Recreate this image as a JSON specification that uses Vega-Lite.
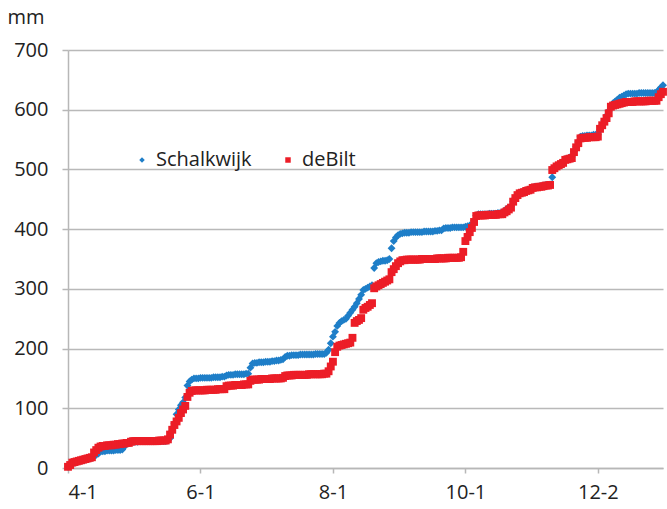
{
  "$schema": "https://vega.github.io/schema/vega-lite/v6.json",
  "width": 595,
  "height": 418,
  "autosize": "none",
  "padding": {"left": 68, "top": 50, "right": 4, "bottom": 41},
  "background": "white",
  "config": {
    "view": {"stroke": null},
    "font": "Open Sans",
    "axis": {"labelFont": "Open Sans", "labelFontSize": 20, "labelColor": "#222222", "domainColor": "#b7b7b7", "domainWidth": 1.5, "tickColor": "#b7b7b7", "tickWidth": 1.5, "gridColor": "#b9b9b9", "gridWidth": 1.5}
  },
  "data": {"values": [
{"d":0,"Schalkwijk":2,"deBilt":2},{"d":1,"Schalkwijk":6,"deBilt":5},{"d":2,"Schalkwijk":8,"deBilt":9},{"d":3,"Schalkwijk":9,"deBilt":10},{"d":4,"Schalkwijk":10,"deBilt":11},{"d":5,"Schalkwijk":11,"deBilt":12},{"d":6,"Schalkwijk":12,"deBilt":13},{"d":7,"Schalkwijk":13,"deBilt":14},{"d":8,"Schalkwijk":14,"deBilt":15},{"d":9,"Schalkwijk":15,"deBilt":16},
{"d":10,"Schalkwijk":16,"deBilt":17},{"d":11,"Schalkwijk":17,"deBilt":18},{"d":12,"Schalkwijk":19,"deBilt":26},{"d":13,"Schalkwijk":22,"deBilt":30},{"d":14,"Schalkwijk":24,"deBilt":34},{"d":15,"Schalkwijk":28,"deBilt":36},{"d":16,"Schalkwijk":28,"deBilt":37},{"d":17,"Schalkwijk":28,"deBilt":37},{"d":18,"Schalkwijk":29,"deBilt":38},{"d":19,"Schalkwijk":29,"deBilt":38},
{"d":20,"Schalkwijk":29,"deBilt":38},{"d":21,"Schalkwijk":29,"deBilt":39},{"d":22,"Schalkwijk":30,"deBilt":39},{"d":23,"Schalkwijk":30,"deBilt":40},{"d":24,"Schalkwijk":30,"deBilt":40},{"d":25,"Schalkwijk":31,"deBilt":41},{"d":26,"Schalkwijk":36,"deBilt":41},{"d":27,"Schalkwijk":42,"deBilt":42},{"d":28,"Schalkwijk":44,"deBilt":42},{"d":29,"Schalkwijk":44,"deBilt":44},
{"d":30,"Schalkwijk":44,"deBilt":45},{"d":31,"Schalkwijk":44,"deBilt":45},{"d":32,"Schalkwijk":44,"deBilt":45},{"d":33,"Schalkwijk":45,"deBilt":45},{"d":34,"Schalkwijk":45,"deBilt":45},{"d":35,"Schalkwijk":45,"deBilt":45},{"d":36,"Schalkwijk":45,"deBilt":45},{"d":37,"Schalkwijk":45,"deBilt":45},{"d":38,"Schalkwijk":45,"deBilt":45},{"d":39,"Schalkwijk":45,"deBilt":45},
{"d":40,"Schalkwijk":45,"deBilt":45},{"d":41,"Schalkwijk":45,"deBilt":45},{"d":42,"Schalkwijk":45,"deBilt":46},{"d":43,"Schalkwijk":45,"deBilt":46},{"d":44,"Schalkwijk":45,"deBilt":46},{"d":45,"Schalkwijk":45,"deBilt":46},{"d":46,"Schalkwijk":46,"deBilt":48},{"d":47,"Schalkwijk":50,"deBilt":56},{"d":48,"Schalkwijk":62,"deBilt":64},{"d":49,"Schalkwijk":75,"deBilt":72},
{"d":50,"Schalkwijk":90,"deBilt":78},{"d":51,"Schalkwijk":98,"deBilt":84},{"d":52,"Schalkwijk":105,"deBilt":92},{"d":53,"Schalkwijk":110,"deBilt":98},{"d":54,"Schalkwijk":118,"deBilt":104},{"d":55,"Schalkwijk":138,"deBilt":119},{"d":56,"Schalkwijk":145,"deBilt":126},{"d":57,"Schalkwijk":148,"deBilt":129},{"d":58,"Schalkwijk":150,"deBilt":130},{"d":59,"Schalkwijk":150,"deBilt":130},
{"d":60,"Schalkwijk":150,"deBilt":130},{"d":61,"Schalkwijk":151,"deBilt":130},{"d":62,"Schalkwijk":151,"deBilt":130},{"d":63,"Schalkwijk":151,"deBilt":130},{"d":64,"Schalkwijk":151,"deBilt":131},{"d":65,"Schalkwijk":151,"deBilt":131},{"d":66,"Schalkwijk":151,"deBilt":131},{"d":67,"Schalkwijk":152,"deBilt":131},{"d":68,"Schalkwijk":152,"deBilt":131},{"d":69,"Schalkwijk":152,"deBilt":132},
{"d":70,"Schalkwijk":152,"deBilt":132},{"d":71,"Schalkwijk":153,"deBilt":132},{"d":72,"Schalkwijk":153,"deBilt":132},{"d":73,"Schalkwijk":155,"deBilt":137},{"d":74,"Schalkwijk":156,"deBilt":138},{"d":75,"Schalkwijk":156,"deBilt":138},{"d":76,"Schalkwijk":156,"deBilt":138},{"d":77,"Schalkwijk":157,"deBilt":139},{"d":78,"Schalkwijk":157,"deBilt":139},{"d":79,"Schalkwijk":157,"deBilt":139},
{"d":80,"Schalkwijk":157,"deBilt":139},{"d":81,"Schalkwijk":157,"deBilt":140},{"d":82,"Schalkwijk":158,"deBilt":140},{"d":83,"Schalkwijk":158,"deBilt":140},{"d":84,"Schalkwijk":168,"deBilt":146},{"d":85,"Schalkwijk":175,"deBilt":148},{"d":86,"Schalkwijk":176,"deBilt":148},{"d":87,"Schalkwijk":176,"deBilt":148},{"d":88,"Schalkwijk":177,"deBilt":148},{"d":89,"Schalkwijk":177,"deBilt":149},
{"d":90,"Schalkwijk":177,"deBilt":149},{"d":91,"Schalkwijk":178,"deBilt":149},{"d":92,"Schalkwijk":178,"deBilt":149},{"d":93,"Schalkwijk":178,"deBilt":149},{"d":94,"Schalkwijk":179,"deBilt":150},{"d":95,"Schalkwijk":179,"deBilt":150},{"d":96,"Schalkwijk":180,"deBilt":150},{"d":97,"Schalkwijk":180,"deBilt":150},{"d":98,"Schalkwijk":181,"deBilt":150},{"d":99,"Schalkwijk":182,"deBilt":151},
{"d":100,"Schalkwijk":186,"deBilt":154},{"d":101,"Schalkwijk":188,"deBilt":155},{"d":102,"Schalkwijk":188,"deBilt":155},{"d":103,"Schalkwijk":189,"deBilt":155},{"d":104,"Schalkwijk":189,"deBilt":156},{"d":105,"Schalkwijk":189,"deBilt":156},{"d":106,"Schalkwijk":189,"deBilt":156},{"d":107,"Schalkwijk":190,"deBilt":156},{"d":108,"Schalkwijk":190,"deBilt":156},{"d":109,"Schalkwijk":190,"deBilt":156},
{"d":110,"Schalkwijk":190,"deBilt":156},{"d":111,"Schalkwijk":190,"deBilt":157},{"d":112,"Schalkwijk":190,"deBilt":157},{"d":113,"Schalkwijk":190,"deBilt":157},{"d":114,"Schalkwijk":191,"deBilt":157},{"d":115,"Schalkwijk":191,"deBilt":157},{"d":116,"Schalkwijk":191,"deBilt":157},{"d":117,"Schalkwijk":191,"deBilt":157},{"d":118,"Schalkwijk":191,"deBilt":158},{"d":119,"Schalkwijk":193,"deBilt":158},
{"d":120,"Schalkwijk":198,"deBilt":162},{"d":121,"Schalkwijk":209,"deBilt":170},{"d":122,"Schalkwijk":220,"deBilt":178},{"d":123,"Schalkwijk":228,"deBilt":194},{"d":124,"Schalkwijk":238,"deBilt":203},{"d":125,"Schalkwijk":243,"deBilt":205},{"d":126,"Schalkwijk":246,"deBilt":206},{"d":127,"Schalkwijk":248,"deBilt":207},{"d":128,"Schalkwijk":250,"deBilt":208},{"d":129,"Schalkwijk":255,"deBilt":209},
{"d":130,"Schalkwijk":260,"deBilt":210},{"d":131,"Schalkwijk":265,"deBilt":218},{"d":132,"Schalkwijk":270,"deBilt":243},{"d":133,"Schalkwijk":276,"deBilt":246},{"d":134,"Schalkwijk":283,"deBilt":248},{"d":135,"Schalkwijk":290,"deBilt":251},{"d":136,"Schalkwijk":298,"deBilt":265},{"d":137,"Schalkwijk":300,"deBilt":268},{"d":138,"Schalkwijk":302,"deBilt":270},{"d":139,"Schalkwijk":304,"deBilt":273},
{"d":140,"Schalkwijk":306,"deBilt":276},{"d":141,"Schalkwijk":335,"deBilt":301},{"d":142,"Schalkwijk":343,"deBilt":304},{"d":143,"Schalkwijk":345,"deBilt":306},{"d":144,"Schalkwijk":346,"deBilt":308},{"d":145,"Schalkwijk":347,"deBilt":310},{"d":146,"Schalkwijk":347,"deBilt":312},{"d":147,"Schalkwijk":348,"deBilt":314},{"d":148,"Schalkwijk":350,"deBilt":316},{"d":149,"Schalkwijk":368,"deBilt":328},
{"d":150,"Schalkwijk":380,"deBilt":333},{"d":151,"Schalkwijk":386,"deBilt":338},{"d":152,"Schalkwijk":390,"deBilt":343},{"d":153,"Schalkwijk":392,"deBilt":346},{"d":154,"Schalkwijk":393,"deBilt":348},{"d":155,"Schalkwijk":394,"deBilt":348},{"d":156,"Schalkwijk":394,"deBilt":349},{"d":157,"Schalkwijk":394,"deBilt":349},{"d":158,"Schalkwijk":395,"deBilt":349},{"d":159,"Schalkwijk":395,"deBilt":349},
{"d":160,"Schalkwijk":395,"deBilt":349},{"d":161,"Schalkwijk":395,"deBilt":349},{"d":162,"Schalkwijk":395,"deBilt":349},{"d":163,"Schalkwijk":395,"deBilt":350},{"d":164,"Schalkwijk":396,"deBilt":350},{"d":165,"Schalkwijk":396,"deBilt":350},{"d":166,"Schalkwijk":396,"deBilt":350},{"d":167,"Schalkwijk":396,"deBilt":350},{"d":168,"Schalkwijk":396,"deBilt":350},{"d":169,"Schalkwijk":397,"deBilt":350},
{"d":170,"Schalkwijk":397,"deBilt":351},{"d":171,"Schalkwijk":398,"deBilt":351},{"d":172,"Schalkwijk":398,"deBilt":351},{"d":173,"Schalkwijk":401,"deBilt":351},{"d":174,"Schalkwijk":402,"deBilt":351},{"d":175,"Schalkwijk":402,"deBilt":352},{"d":176,"Schalkwijk":402,"deBilt":352},{"d":177,"Schalkwijk":403,"deBilt":352},{"d":178,"Schalkwijk":403,"deBilt":352},{"d":179,"Schalkwijk":403,"deBilt":352},
{"d":180,"Schalkwijk":403,"deBilt":352},{"d":181,"Schalkwijk":403,"deBilt":353},{"d":182,"Schalkwijk":403,"deBilt":362},{"d":183,"Schalkwijk":404,"deBilt":380},{"d":184,"Schalkwijk":405,"deBilt":387},{"d":185,"Schalkwijk":406,"deBilt":395},{"d":186,"Schalkwijk":408,"deBilt":402},{"d":187,"Schalkwijk":414,"deBilt":412},{"d":188,"Schalkwijk":423,"deBilt":422},{"d":189,"Schalkwijk":425,"deBilt":423},
{"d":190,"Schalkwijk":425,"deBilt":423},{"d":191,"Schalkwijk":425,"deBilt":423},{"d":192,"Schalkwijk":425,"deBilt":423},{"d":193,"Schalkwijk":425,"deBilt":424},{"d":194,"Schalkwijk":426,"deBilt":424},{"d":195,"Schalkwijk":426,"deBilt":424},{"d":196,"Schalkwijk":426,"deBilt":424},{"d":197,"Schalkwijk":426,"deBilt":424},{"d":198,"Schalkwijk":427,"deBilt":425},{"d":199,"Schalkwijk":427,"deBilt":425},
{"d":200,"Schalkwijk":428,"deBilt":425},{"d":201,"Schalkwijk":431,"deBilt":428},{"d":202,"Schalkwijk":434,"deBilt":430},{"d":203,"Schalkwijk":436,"deBilt":433},{"d":204,"Schalkwijk":438,"deBilt":436},{"d":205,"Schalkwijk":446,"deBilt":446},{"d":206,"Schalkwijk":452,"deBilt":452},{"d":207,"Schalkwijk":457,"deBilt":457},{"d":208,"Schalkwijk":460,"deBilt":460},{"d":209,"Schalkwijk":462,"deBilt":461},
{"d":210,"Schalkwijk":463,"deBilt":462},{"d":211,"Schalkwijk":465,"deBilt":464},{"d":212,"Schalkwijk":466,"deBilt":465},{"d":213,"Schalkwijk":467,"deBilt":466},{"d":214,"Schalkwijk":470,"deBilt":469},{"d":215,"Schalkwijk":471,"deBilt":470},{"d":216,"Schalkwijk":471,"deBilt":470},{"d":217,"Schalkwijk":472,"deBilt":471},{"d":218,"Schalkwijk":472,"deBilt":471},{"d":219,"Schalkwijk":473,"deBilt":472},
{"d":220,"Schalkwijk":474,"deBilt":473},{"d":221,"Schalkwijk":474,"deBilt":473},{"d":222,"Schalkwijk":475,"deBilt":474},{"d":223,"Schalkwijk":487,"deBilt":499},{"d":224,"Schalkwijk":501,"deBilt":502},{"d":225,"Schalkwijk":505,"deBilt":505},{"d":226,"Schalkwijk":508,"deBilt":507},{"d":227,"Schalkwijk":510,"deBilt":509},{"d":228,"Schalkwijk":513,"deBilt":511},{"d":229,"Schalkwijk":517,"deBilt":516},
{"d":230,"Schalkwijk":518,"deBilt":517},{"d":231,"Schalkwijk":520,"deBilt":518},{"d":232,"Schalkwijk":521,"deBilt":519},{"d":233,"Schalkwijk":530,"deBilt":529},{"d":234,"Schalkwijk":538,"deBilt":537},{"d":235,"Schalkwijk":546,"deBilt":544},{"d":236,"Schalkwijk":555,"deBilt":552},{"d":237,"Schalkwijk":556,"deBilt":553},{"d":238,"Schalkwijk":556,"deBilt":553},{"d":239,"Schalkwijk":557,"deBilt":553},
{"d":240,"Schalkwijk":557,"deBilt":554},{"d":241,"Schalkwijk":557,"deBilt":554},{"d":242,"Schalkwijk":558,"deBilt":554},{"d":243,"Schalkwijk":558,"deBilt":554},{"d":244,"Schalkwijk":558,"deBilt":555},{"d":245,"Schalkwijk":566,"deBilt":568},{"d":246,"Schalkwijk":574,"deBilt":574},{"d":247,"Schalkwijk":582,"deBilt":580},{"d":248,"Schalkwijk":590,"deBilt":586},{"d":249,"Schalkwijk":598,"deBilt":594},
{"d":250,"Schalkwijk":606,"deBilt":605},{"d":251,"Schalkwijk":611,"deBilt":607},{"d":252,"Schalkwijk":614,"deBilt":608},{"d":253,"Schalkwijk":617,"deBilt":609},{"d":254,"Schalkwijk":620,"deBilt":610},{"d":255,"Schalkwijk":622,"deBilt":611},{"d":256,"Schalkwijk":624,"deBilt":612},{"d":257,"Schalkwijk":626,"deBilt":613},{"d":258,"Schalkwijk":627,"deBilt":613},{"d":259,"Schalkwijk":627,"deBilt":613},
{"d":260,"Schalkwijk":627,"deBilt":613},{"d":261,"Schalkwijk":627,"deBilt":614},{"d":262,"Schalkwijk":627,"deBilt":614},{"d":263,"Schalkwijk":628,"deBilt":614},{"d":264,"Schalkwijk":628,"deBilt":614},{"d":265,"Schalkwijk":628,"deBilt":614},{"d":266,"Schalkwijk":628,"deBilt":614},{"d":267,"Schalkwijk":628,"deBilt":615},{"d":268,"Schalkwijk":628,"deBilt":615},{"d":269,"Schalkwijk":628,"deBilt":615},
{"d":270,"Schalkwijk":628,"deBilt":615},{"d":271,"Schalkwijk":629,"deBilt":615},{"d":272,"Schalkwijk":633,"deBilt":621},{"d":273,"Schalkwijk":637,"deBilt":626},{"d":274,"Schalkwijk":641,"deBilt":630}
  ]},
  "transform": [{"fold": ["Schalkwijk", "deBilt"], "as": ["station", "mm"]}],
  "mark": {"type": "point", "filled": true, "opacity": 1, "clip": false},
  "encoding": {
    "x": {"field": "d", "type": "quantitative",
      "scale": {"domain": [0, 274], "nice": false, "zero": false},
      "axis": {"title": null, "grid": false, "values": [0, 61, 122, 183, 244], "tickSize": 5, "labelPadding": 9,
        "labelExpr": "['4-1','6-1','8-1','10-1','12-2'][indexof([0,61,122,183,244], datum.value)]"}},
    "y": {"field": "mm", "type": "quantitative",
      "scale": {"domain": [0, 700], "nice": false},
      "axis": {"values": [0,100,200,300,400,500,600,700], "tickSize": 6, "labelPadding": 14,
        "title": "mm", "titleAngle": 0, "titleAlign": "left", "titleBaseline": "alphabetic", "titleX": -61, "titleY": -27,
        "titleFont": "Open Sans", "titleFontSize": 20, "titleFontWeight": "normal", "titleColor": "#222222"}},
    "color": {"field": "station", "type": "nominal",
      "scale": {"domain": ["Schalkwijk", "deBilt"], "range": ["#1E7EC8", "#EC1D27"]},
      "legend": {"title": null, "orient": "none", "legendX": 64, "legendY": 100, "direction": "horizontal",
        "labelFont": "Open Sans", "labelFontSize": 20, "labelColor": "#222222", "symbolSize": 30, "labelOffset": 4, "columnPadding": 26}},
    "shape": {"field": "station", "type": "nominal",
      "scale": {"domain": ["Schalkwijk", "deBilt"], "range": ["diamond", "square"]}},
    "size": {"value": 62},
    "order": {"field": "station", "sort": "ascending"}
  }
}
